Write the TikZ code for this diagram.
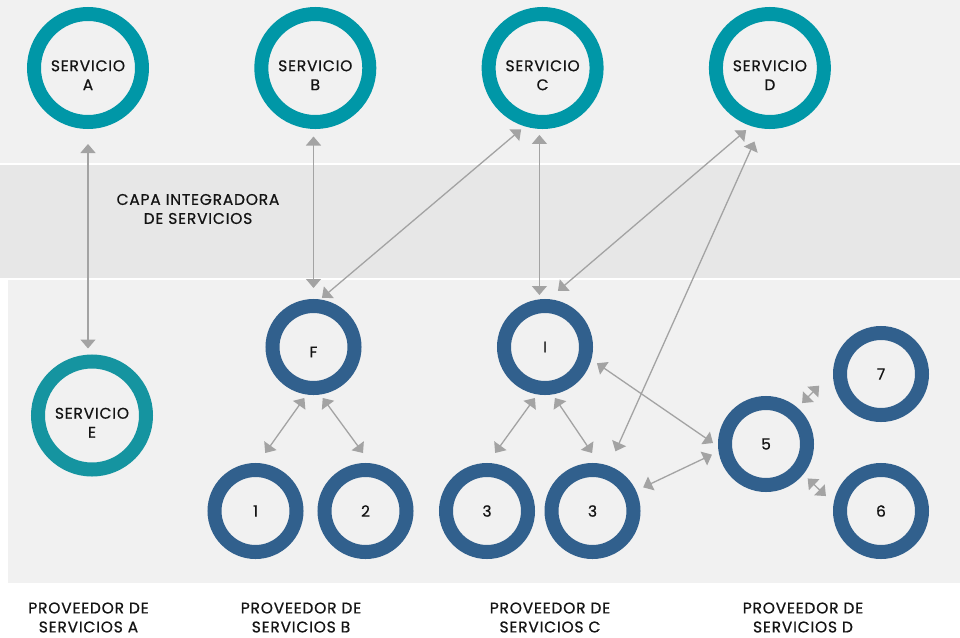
\documentclass[tikz,border=0pt]{standalone}
\usepackage{fontspec}
\setmainfont{Poppins}[LetterSpace=5, FakeBold=0.6]
\usetikzlibrary{arrows.meta, positioning}
\definecolor{svcteal}{HTML}{0097A7}
\definecolor{svcgreen}{HTML}{1594A0}
\definecolor{provblue}{HTML}{31608D}
\definecolor{linkgray}{HTML}{A3A3A3}
\definecolor{paneback}{HTML}{F1F1F1}
\definecolor{layerback}{HTML}{E7E7E7}
\definecolor{inktext}{HTML}{141414}
\tikzstyle{svc} = [circle, draw=svcteal, line width=14pt, minimum size=108pt,
inner sep=0pt, outer sep=7pt, text=inktext, font=\fontsize{15.5}{18.5}\selectfont]
\tikzstyle{prov} = [circle, draw=provblue, line width=14pt, minimum size=82pt,
inner sep=0pt, outer sep=7pt, text=inktext, font=\fontsize{15.5}{18}\selectfont]
\tikzstyle{arrow} = [draw=linkgray, line width=1.3pt,
{Triangle[length=9pt,width=15pt]}-{Triangle[length=9pt,width=15pt]}]
\tikzstyle{caption} = [align=center, text=inktext, font=\fontsize{15.5}{19}\selectfont]
\newcommand{\svcname}[1]{\raisebox{-9pt}[\height][\depth]{\begin{tabular}{@{}c@{}}SERVICIO\\[0.5pt]#1\end{tabular}}}

\begin{document}
\begin{tikzpicture}[x=1pt, y=-1pt, node distance=227.3pt]
        % \draw[help lines] (0,0) grid (960,637);
        \useasboundingbox (0,0) rectangle (960,637);
        \fill[white] (0,0) rectangle (960,637);
        \fill[paneback] (0,0) rectangle (960,163);
        \fill[layerback] (0,165) rectangle (960,278);
        \fill[paneback] (8,280) rectangle (960,583);

        \node (A) [svc] at (88,68) {\svcname{A}};
        \node (B) [svc, right of=A] {\svcname{B}};
        \node (C) [svc, right of=B] {\svcname{C}};
        \node (D) [svc, right of=C] {\svcname{D}};
        \node (E) [svc, draw=svcgreen] at (92,415.5) {\svcname{E}};

        \node (F) [prov] at (313.5,347) {\raisebox{-5pt}[\height][\depth]{F}};
        \node (I) [prov] at (545,347) {I};
        \node (P1) [prov] at (255.5,511) {1};
        \node (P2) [prov] at (365.5,511) {2};
        \node (P3a) [prov] at (487,511) {3};
        \node (P3b) [prov] at (592.5,511) {3};
        \node (P5) [prov] at (766,444) {5};
        \node (P7) [prov] at (881,374) {7};
        \node (P6) [prov] at (881,511) {6};

        \node (layer) [caption] at (198,209) {CAPA INTEGRADORA\\DE SERVICIOS};
        \node (provA) [caption] at (88.5,617.5) {PROVEEDOR DE\\SERVICIOS A};
        \node (provB) [caption] at (301,617.5) {PROVEEDOR DE\\SERVICIOS B};
        \node (provC) [caption] at (550,617.5) {PROVEEDOR DE\\SERVICIOS C};
        \node (provD) [caption] at (803,617.5) {PROVEEDOR DE\\SERVICIOS D};

        \draw [arrow, shorten <=15pt, shorten >=6pt] (A.south) -- (A.south |- E.north);
        \draw [arrow, shorten <=7.5pt, shorten >=11pt] (F.north |- B.south) -- (F.north);
        \draw [arrow, shorten <=4.7pt, shorten >=2.3pt] (C.253.4) -- (F.82);
        \draw [arrow, shorten <=6pt, shorten >=4pt] (C.267) -- (C.267 |- I.north);
        \draw [arrow, shorten <=6.5pt, shorten >=12.6pt] (D.252.8) -- (I.86);
        \draw [arrow, shorten <=14.5pt, shorten >=16pt] (D.261.5) -- (P3b.70.7);
        \draw [arrow, shorten <=4.2pt, shorten >=12.4pt] (F.262.8) -- (P1.87.4);
        \draw [arrow, shorten <=4.3pt, shorten >=12.7pt] (F.278.4) -- (P2.84);
        \draw [arrow, shorten <=4.4pt, shorten >=12.4pt] (I.261.1) -- (P3a.89);
        \draw [arrow, shorten <=4.3pt, shorten >=12.6pt] (I.279.1) -- (P3b.82.2);
        \draw [arrow, shorten <=6.75pt, shorten >=6.15pt] (I.345.3) -- (P5.183);
        \draw [arrow, shorten <=7.9pt, shorten >=7.35pt] (P3b.25.5) -- (P5.189.5);
        \draw [arrow, shorten <=6.6pt, shorten >=19.85pt] (P5.49.2) -- (P7.177.6);
        \draw [arrow, shorten <=6.1pt, shorten >=10.7pt] (P5.321.8) -- (P6.171.1);

    \end{tikzpicture}
\end{document}
